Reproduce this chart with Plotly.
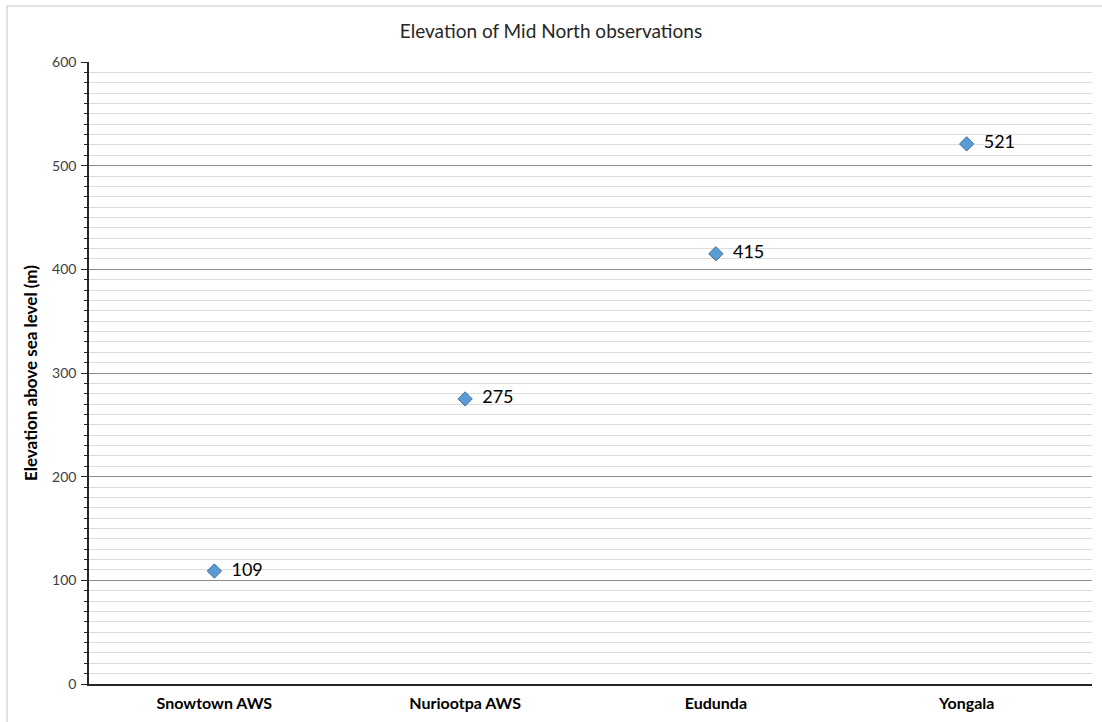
import plotly.graph_objects as go

stations = ["Snowtown AWS", "Nuriootpa AWS", "Eudunda", "Yongala"]
elevations = [109, 275, 415, 521]
y_ticks = [0, 100, 200, 300, 400, 500, 600]

xpos = list(range(len(stations)))

fig = go.Figure()
fig.add_trace(go.Scatter(
    x=xpos, y=elevations, mode="markers+text",
    marker=dict(symbol="diamond", size=11, color="#5B9BD5",
                line=dict(color="#41719C", width=1)),
    text=["  " + str(v) for v in elevations],
    textposition="middle right",
    textfont=dict(family="Lato, Open Sans, sans-serif", size=18, color="#000000"),
    showlegend=False, cliponaxis=False,
))

fig.update_layout(
    width=1102, height=722,
    margin=dict(l=89, r=10, t=62, b=38),
    paper_bgcolor="white", plot_bgcolor="white",
    title=dict(text="Elevation of Mid North observations", x=0.5, xanchor="center",
               y=1 - 31 / 722, yanchor="middle",
               font=dict(family="Lato, Open Sans, sans-serif", size=19, color="#262626")),
    font=dict(family="Lato, Open Sans, sans-serif", color="#262626"),
    xaxis=dict(
        range=[-0.5, len(stations) - 0.5],
        tickvals=xpos, ticktext=["<b>%s</b>" % s for s in stations],
        tickfont=dict(size=16, color="#000000"),
        showgrid=False, zeroline=False,
        showline=True, linecolor="#262626", linewidth=2,
        ticks="", ticklabelstandoff=4,
    ),
    yaxis=dict(
        range=[0, 600], tickvals=y_ticks,
        tickfont=dict(size=14, color="#404040"),
        showgrid=True, gridcolor="#8C8C8C", gridwidth=1,
        zeroline=False,
        showline=True, linecolor="#262626", linewidth=1.5,
        ticks="outside", ticklen=6, tickcolor="#262626", tickwidth=1,
        ticklabelstandoff=2,
        minor=dict(dtick=10, showgrid=True, gridcolor="#DCDCDC", gridwidth=1,
                   ticks="outside", ticklen=3, tickcolor="#262626"),
        title=dict(text="<b>Elevation above sea level (m)</b>",
                   font=dict(size=17, color="#000000"), standoff=10),
    ),
    shapes=[dict(type="rect", xref="paper", yref="paper",
                 x0=(7 - 89) / 1003, x1=1.2, y0=-0.3, y1=(684 - 6) / 622,
                 line=dict(color="#D9D9D9", width=1.5), layer="below")],
)

fig.write_html("out.html")
